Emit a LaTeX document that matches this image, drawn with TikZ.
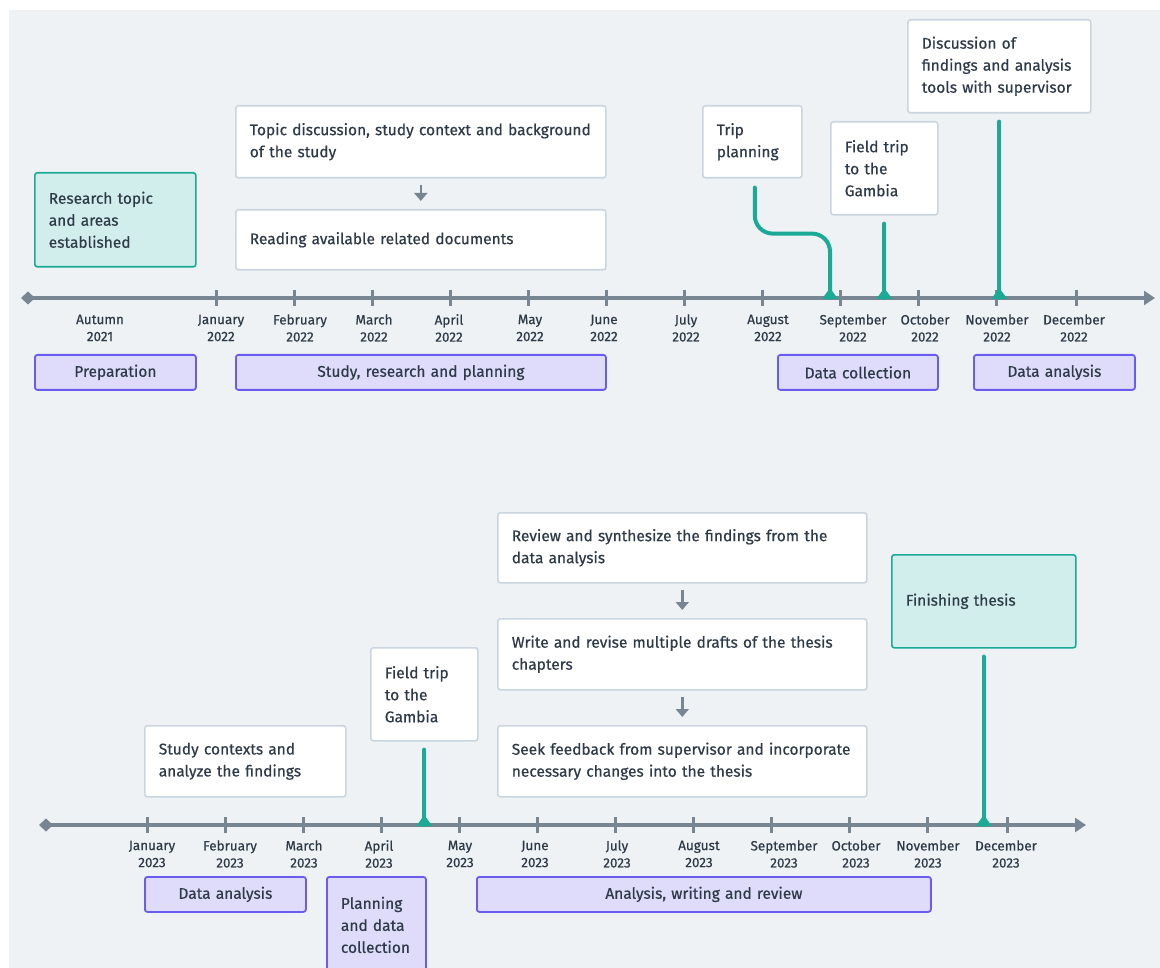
\documentclass[tikz,border=0pt]{standalone}
\usepackage{fontspec}
\setmainfont{Fira Sans}[FakeBold=0.5]
\usepackage{tikz}
\usetikzlibrary{arrows.meta,positioning,calc}

\definecolor{bgcol}{RGB}{239,242,245}
\definecolor{axisgrey}{RGB}{120,134,147}
\definecolor{inkcol}{RGB}{46,58,72}
\definecolor{cardline}{RGB}{202,213,223}
\definecolor{tealline}{RGB}{26,170,150}
\definecolor{tealfill}{RGB}{210,238,236}
\definecolor{phaseline}{RGB}{107,92,240}
\definecolor{phasefill}{RGB}{222,220,250}

\begin{document}
\begin{tikzpicture}[x=1pt,y=-1pt,
  card/.style={draw=cardline,line width=1.6pt,fill=white,rounded corners=2.5pt,anchor=north west,
    align=left,inner xsep=14pt,inner ysep=0pt,text=inkcol,font=\fontsize{15.5}{22}\selectfont},
  milestone/.style={card,draw=tealline,fill=tealfill},
  phase/.style={draw=phaseline,line width=1.8pt,fill=phasefill,rounded corners=2.5pt,anchor=north west,
    align=center,inner xsep=0pt,inner ysep=0pt,minimum height=35pt,text=inkcol,font=\fontsize{15.5}{22}\selectfont},
  month/.style={align=center,text=inkcol,font=\fontsize{13.5}{17}\selectfont},
  axis/.style={draw=axisgrey,line width=4pt,{Diamond[length=14pt,width=13pt]}-{Triangle[length=11pt,width=14pt]}},
  tick/.style={draw=axisgrey,line width=3pt},
  flow/.style={draw=axisgrey,line width=2.5pt,-{Triangle[length=8pt,width=13pt]}},
  link/.style={draw=tealline,line width=4pt,line cap=round},
  foot/.style={fill=tealline}]

  \useasboundingbox (0,0) rectangle (1160,968);
  \fill[bgcol] (9,10) rectangle (1160,968);

  % 2021 - 2022
  \coordinate (s0) at (21,298);
  \coordinate (s1) at (1155,298);
  \draw[axis] (s0) -- (s1);
  \draw[tick] (216,290) -- (216,306) (294,290) -- (294,306) (372,290) -- (372,306)
    (450,290) -- (450,306) (528,290) -- (528,306) (606,290) -- (606,306)
    (684,290) -- (684,306) (762,290) -- (762,306) (840,290) -- (840,306)
    (918,290) -- (918,306) (996,290) -- (996,306) (1076,290) -- (1076,306);

  \node[month] at (100,328) (aut21) {Autumn\\2021};
  \node[month] at (221,328) (jan22) {January\\2022};
  \node[month] at (300,328) (feb22) {February\\2022};
  \node[month] at (374,328) (mar22) {March\\2022};
  \node[month] at (449,328) (apr22) {April\\2022};
  \node[month] at (530,328) (may22) {May\\2022};
  \node[month] at (604,328) (jun22) {June\\2022};
  \node[month] at (686,328) (jul22) {July\\2022};
  \node[month] at (768,328) (aug22) {August\\2022};
  \node[month] at (853,328) (sep22) {September\\2022};
  \node[month] at (925,328) (oct22) {October\\2022};
  \node[month] at (997,328) (nov22) {November\\2022};
  \node[month] at (1074,328) (dec22) {December\\2022};

  \node[milestone,text width=133pt,minimum height=94pt] at (34,172) (topic) {Research topic\\and areas\\established};
  \node[card,text width=342pt,minimum height=72pt] at (235,105) (context) {Topic discussion, study context and background\\of the study};
  \node[card,text width=342pt,minimum height=60pt] at (235,209) (reading) {Reading available related documents};
  \node[card,text width=71pt,minimum height=72pt] at (702,105) (plan) {Trip\\planning};
  \node[card,text width=79pt,minimum height=93pt] at (830,121) (trip) {Field trip\\to the\\Gambia};
  \node[card,text width=155pt,minimum height=93pt] at (907,19) (talk) {Discussion of\\findings and analysis\\tools with supervisor};

  \node[phase,text width=161pt] at (34,354) (prep) {Preparation};
  \node[phase,text width=370pt] at (235,354) (study) {Study, research and planning};
  \node[phase,text width=160pt] at (777,354) (collect) {Data collection};
  \node[phase,text width=161pt] at (973,354) (analyse) {Data analysis};

  \coordinate (e1) at (830,298);
  \coordinate (e2) at (trip.south |- s0);
  \coordinate (e3) at (talk.south |- s0);

  \draw[flow] ([yshift=-6pt]context.south) -- ([yshift=8pt]reading.north);
  \draw[link,rounded corners=18pt] ([xshift=2.5pt,yshift=-9pt]plan.south) -- ++(0,46) -| (e1);
  \draw[link] ([yshift=-8pt]trip.south) -- (e2);
  \draw[link] ([yshift=-8pt]talk.south) -- (e3);
  \fill[foot] (e1) ++(-8,1) -- ++(8,-11) -- ++(8,11) -- cycle;
  \fill[foot] (e2) ++(-8,1) -- ++(8,-11) -- ++(8,11) -- cycle;
  \fill[foot] (e3) ++(-8,1) -- ++(8,-11) -- ++(8,11) -- cycle;

  % 2023
  \coordinate (t0) at (39,825);
  \coordinate (t1) at (1086,825);
  \draw[axis] (t0) -- (t1);
  \draw[tick] (147,817) -- (147,833) (225,817) -- (225,833) (303,817) -- (303,833)
    (381,817) -- (381,833) (459,817) -- (459,833) (537,817) -- (537,833)
    (615,817) -- (615,833) (693,817) -- (693,833) (771,817) -- (771,833)
    (849,817) -- (849,833) (927,817) -- (927,833) (1007,817) -- (1007,833);

  \node[month] at (152,854) (jan23) {January\\2023};
  \node[month] at (230,854) (feb23) {February\\2023};
  \node[month] at (304,854) (mar23) {March\\2023};
  \node[month] at (379,854) (apr23) {April\\2023};
  \node[month] at (460,854) (may23) {May\\2023};
  \node[month] at (535,854) (jun23) {June\\2023};
  \node[month] at (617,854) (jul23) {July\\2023};
  \node[month] at (699,854) (aug23) {August\\2023};
  \node[month] at (784,854) (sep23) {September\\2023};
  \node[month] at (856,854) (oct23) {October\\2023};
  \node[month] at (928,854) (nov23) {November\\2023};
  \node[month] at (1006,854) (dec23) {December\\2023};

  \node[card,text width=173pt,minimum height=71pt] at (144,725) (contexts) {Study contexts and\\analyze the findings};
  \node[card,text width=79pt,minimum height=93pt] at (370,647) (trip2) {Field trip\\to the\\Gambia};
  \node[card,text width=341pt,minimum height=70pt] at (497,512) (review) {Review and synthesize the findings from the\\data analysis};
  \node[card,text width=341pt,minimum height=71pt] at (497,618) (drafts) {Write and revise multiple drafts of the thesis\\chapters};
  \node[card,text width=341pt,minimum height=71pt] at (497,725) (feedback) {Seek feedback from supervisor and incorporate\\necessary changes into the thesis};
  \node[milestone,text width=156pt,minimum height=93pt] at (891,554) (finish) {Finishing thesis};

  \node[phase,text width=161pt] at (144,876) (analyse2) {Data analysis};
  \node[phase,align=left,inner xsep=14pt,text width=71pt,minimum height=96pt] at (326,876) (collect2) {Planning\\and data\\collection};
  \node[phase,text width=454pt] at (476,876) (writing) {Analysis, writing and review};

  \coordinate (e4) at (trip2.south |- t0);
  \coordinate (e5) at (finish.south |- t0);

  \draw[flow] ([yshift=-6pt]review.south) -- ([yshift=8pt]drafts.north);
  \draw[flow] ([yshift=-6pt]drafts.south) -- ([yshift=8pt]feedback.north);
  \draw[link] ([yshift=-8pt]trip2.south) -- (e4);
  \draw[link] ([yshift=-8pt]finish.south) -- (e5);
  \fill[foot] (e4) ++(-8,1) -- ++(8,-11) -- ++(8,11) -- cycle;
  \fill[foot] (e5) ++(-8,1) -- ++(8,-11) -- ++(8,11) -- cycle;
\end{tikzpicture}
\end{document}
